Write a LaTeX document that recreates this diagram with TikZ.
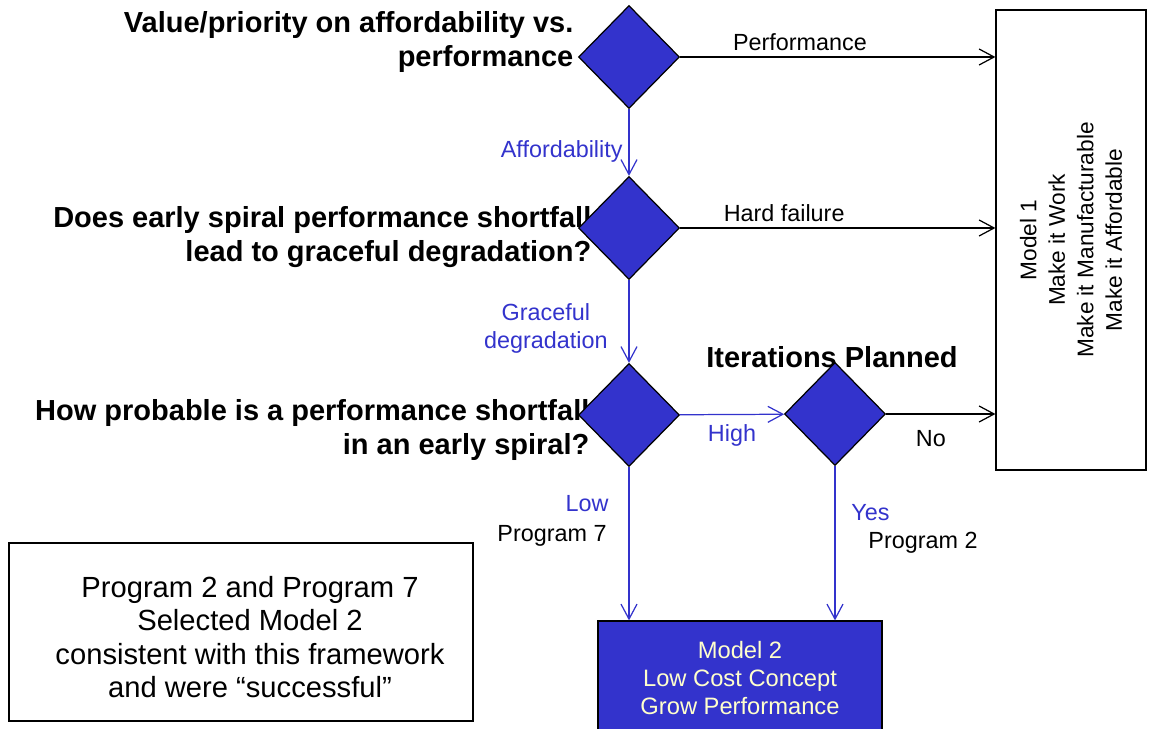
\documentclass[tikz,border=0pt]{standalone}
\usepackage{fontspec}
\setmainfont{Liberation Sans}
\usetikzlibrary{arrows.meta,shapes.geometric}
\definecolor{dblue}{HTML}{3333CC}
\definecolor{cream}{HTML}{FFFFCC}

\begin{document}
\begin{tikzpicture}[x=0.02cm,y=-0.02cm,>={Straight Barb[length=3mm,width=3.2mm]},line width=0.7pt,
    decision/.style={diamond,draw,fill=dblue,minimum width=2.02cm,minimum height=2.06cm,inner sep=0pt},
    question/.style={anchor=east,align=right,inner sep=0pt,font=\bfseries\fontsize{16.5}{19.3}\selectfont},
    label text/.style={font=\fontsize{13.3}{16}\selectfont}]
  \useasboundingbox (0,0) rectangle (1150,729);

  \node[question] (q1) at (574,42) {Value/priority on affordability vs.\\performance};
  \node[question] (q2) at (592,237) {Does early spiral performance shortfall\\lead to graceful degradation?};
  \node[question] (q3) at (590,430) {How probable is a performance shortfall\\in an early spiral?};
  \node[font=\bfseries\fontsize{16.5}{19.3}\selectfont] (iter) at (832,357) {Iterations Planned};

  \node[decision] (d1) at (629,57) {};
  \node[decision] (d2) at (629,228) {};
  \node[decision] (d3) at (629,415) {};
  \node[decision] (d4) at (835,414) {};

  \node[draw,minimum width=3cm,minimum height=9.2cm] (m1) at (1071,240) {};
  \node[rotate=90,align=center,font=\fontsize{12.9}{16.2}\selectfont] (m1text) at (m1.center)
    {Model 1\\Make it Work\\Make it Manufacturable\\Make it Affordable};
  \node[draw,fill=dblue,text=cream,align=center,minimum width=5.68cm,minimum height=2.28cm,
    font=\fontsize{13.5}{16.2}\selectfont] (m2) at (740,678) {Model 2\\Low Cost Concept\\Grow Performance};
  \node[draw,minimum width=9.28cm,minimum height=3.56cm] (note) at (241,632) {};
  \node[align=center,font=\fontsize{16.6}{19}\selectfont] (notetext) at ([xshift=0.18cm,yshift=-0.1cm]note.center)
    {Program 2 and Program 7\\Selected Model 2\\consistent with this framework\\and were “successful”};

  \path[->,every node/.style={label text}]
    (d1) edge node[pos=0.38,above] {Performance} (d1 -| m1.west)
    (d1) edge[dblue] node[pos=0.64,left] {Affordability} (d2)
    (d2) edge node[pos=0.33,above] {Hard failure} (d2 -| m1.west)
    (d2) edge[dblue] node[pos=0.58,left=3mm,align=center] {Graceful\\degradation} (d3)
    (d3) edge[dblue] node[pos=0.5,below=0.8mm] {High} (d4)
    (d4) edge node[pos=0.41,below=2mm] {No} (d4 -| m1.west)
    (d3) edge[dblue] node[pos=0.24,left=2.8mm] {Low}
                     node[pos=0.45,left=3.2mm,text=black] {Program 7} (d3 |- m2.north)
    (d4) edge[dblue] node[pos=0.30,right=2mm] {Yes}
                     node[pos=0.50,right=5.4mm,text=black] {Program 2} (d4 |- m2.north);
\end{tikzpicture}
\end{document}
